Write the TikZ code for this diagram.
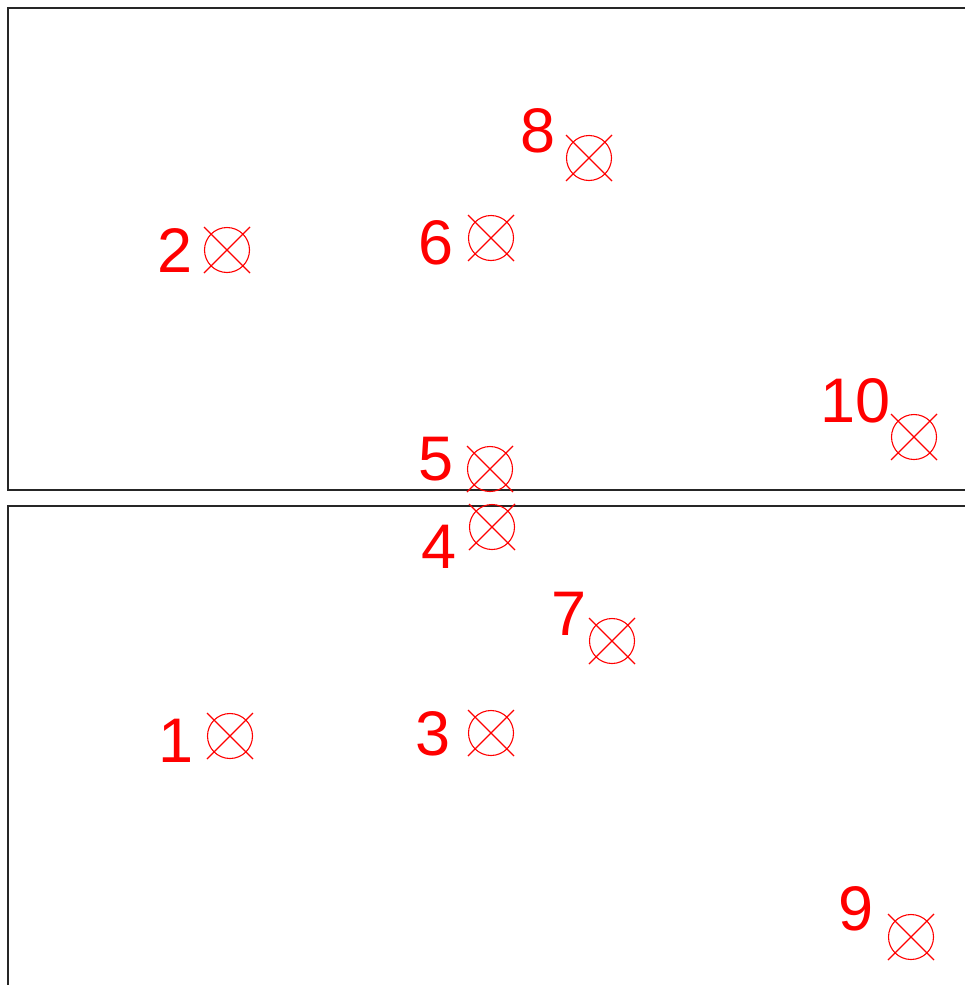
\documentclass[tikz,border=0pt]{standalone}
\usepackage{fontspec}
\setmainfont{Liberation Sans}
\begin{document}
\begin{tikzpicture}[x=1pt,y=-1pt,
  xm/.style={circle, draw=red, line width=1.1pt, minimum size=45pt, inner sep=0pt},
  xl/.style={draw=red, line width=1.1pt},
  num/.style={text=red, font=\fontsize{63}{63}\selectfont, anchor=base west, inner sep=0pt},
  frame/.style={draw=black!85, line width=1.2pt}]
\useasboundingbox (0,0) rectangle (965,985);
\draw[frame] (966,8) -- (8,8) -- (8,490) -- (966,490);
\draw[frame] (966,506) -- (8,506) -- (8,986);
\foreach \n/\mx/\my/\lx/\ly in {
  1/230/736/158/762,
  2/227/250/157/272,
  3/491/733/415/755,
  4/492/527/421/568,
  5/490/469/418/480,
  6/491/238/418/264,
  7/612/641/551/635,
  8/589/158/520/152,
  9/911/937/838/930,
  10/914/437/820/422}{
  \node[xm] (m\n) at (\mx,\my) {};
  \draw[xl] (m\n.center) +(-23pt,-23pt) -- +(23pt,23pt) +(-23pt,23pt) -- +(23pt,-23pt);
  \node[num] (l\n) at (\lx,\ly) {\n};
}
\end{tikzpicture}
\end{document}
